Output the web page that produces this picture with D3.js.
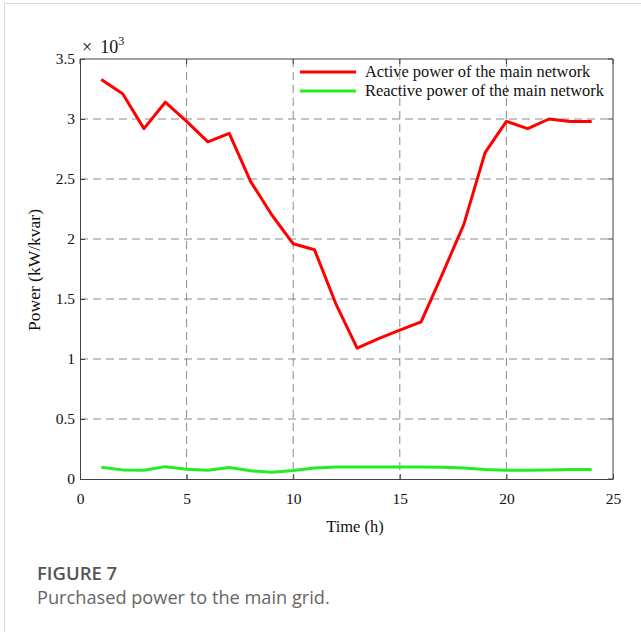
<!DOCTYPE html>
<html>
<head>
<meta charset="utf-8">
<script src="https://cdn.jsdelivr.net/npm/d3@7/dist/d3.min.js"></script>
<style>
  html, body { margin: 0; padding: 0; background: #fff; }
  svg { display: block; }
</style>
</head>
<body>
<svg id="chart" width="641" height="632"></svg>
<script>
// Hourly purchased power from the main grid (kW / kvar)
const hours = d3.range(1, 25);
const activePower = [3330, 3210, 2920, 3140, 2980, 2810, 2880, 2480, 2200, 1960, 1910, 1460,
                     1090, 1170, 1240, 1310, 1710, 2120, 2720, 2980, 2920, 3000, 2980, 2980];
const reactivePower = [98, 76, 73, 103, 82, 73, 95, 68, 57, 70, 92, 100,
                       100, 100, 100, 100, 98, 92, 79, 73, 73, 76, 79, 79];
const xTicks = [0, 5, 10, 15, 20, 25];
const yTicks = [0, 500, 1000, 1500, 2000, 2500, 3000, 3500];
const yTickLabels = ["0", "0.5", "1", "1.5", "2", "2.5", "3", "3.5"];
const seriesNames = ["Active power of the main network", "Reactive power of the main network"];
const seriesColors = ["#ff0000", "#22ee22"];

const svg = d3.select("#chart");
const serif = "'Liberation Serif', 'Times New Roman', serif";
const sans = "'Open Sans', 'Noto Sans', sans-serif";

// outer frame
svg.append("path")
  .attr("d", "M4.5,632 V3.5 H641")
  .attr("fill", "none").attr("stroke", "#d9d9d9").attr("stroke-width", 1);

const m = { left: 80, top: 59, right: 613, bottom: 479 };
const x = d3.scaleLinear().domain([0, 25]).range([m.left, m.right]);
const y = d3.scaleLinear().domain([0, 3500]).range([m.bottom, m.top]);

// dashed grid
const grid = svg.append("g").attr("stroke", "#8a8a8a").attr("stroke-width", 1)
  .attr("stroke-dasharray", "8,5").attr("fill", "none");
xTicks.slice(1, -1).forEach(t => {
  grid.append("line").attr("x1", x(t)).attr("x2", x(t)).attr("y1", m.top).attr("y2", m.bottom);
});
yTicks.slice(1, -1).forEach(t => {
  grid.append("line").attr("x1", m.left).attr("x2", m.right).attr("y1", y(t)).attr("y2", y(t));
});

// axes with inward ticks
const axisColor = "#444";
const xAxis = svg.append("g").attr("transform", `translate(0,${m.bottom})`)
  .call(d3.axisBottom(x).tickValues(xTicks).tickSizeInner(-5).tickSizeOuter(0).tickPadding(14));
const yAxis = svg.append("g").attr("transform", `translate(${m.left},0)`)
  .call(d3.axisLeft(y).tickValues(yTicks).tickFormat((d, i) => yTickLabels[i])
    .tickSizeInner(-5).tickSizeOuter(0).tickPadding(5));
[xAxis, yAxis].forEach(a => {
  a.select(".domain").attr("stroke", axisColor);
  a.selectAll(".tick line").attr("stroke", axisColor);
  a.selectAll(".tick text").attr("fill", "#111").style("font-family", serif).style("font-size", "15.5px");
});
// top and right frame with ticks
svg.append("line").attr("x1", m.left).attr("x2", m.right).attr("y1", m.top).attr("y2", m.top)
  .attr("stroke", axisColor);
svg.append("line").attr("x1", m.right).attr("x2", m.right).attr("y1", m.top).attr("y2", m.bottom)
  .attr("stroke", axisColor);
xTicks.forEach(t => svg.append("line").attr("x1", x(t)).attr("x2", x(t))
  .attr("y1", m.top).attr("y2", m.top + 5).attr("stroke", axisColor));
yTicks.forEach(t => svg.append("line").attr("x1", m.right).attr("x2", m.right - 5)
  .attr("y1", y(t)).attr("y2", y(t)).attr("stroke", axisColor));

// exponent label
const expo = svg.append("text").attr("x", 82).attr("y", 53)
  .style("font-family", serif).style("font-size", "18px").attr("fill", "#111");
expo.append("tspan").text("\u00d7");
expo.append("tspan").attr("dx", 8).text("10");
expo.append("tspan").attr("dy", -8).style("font-size", "12px").text("3");

// axis titles
svg.append("text").attr("x", 355).attr("y", 532).attr("text-anchor", "middle")
  .style("font-family", serif).style("font-size", "16.5px").attr("fill", "#111").text("Time (h)");
svg.append("text").attr("transform", "translate(40,270) rotate(-90)").attr("text-anchor", "middle")
  .style("font-family", serif).style("font-size", "17.5px").attr("fill", "#111").text("Power (kW/kvar)");

// series lines
const line = d3.line().x((d, i) => x(hours[i])).y(d => y(d));
[activePower, reactivePower].forEach((vals, k) => {
  svg.append("path").datum(vals).attr("d", line)
    .attr("fill", "none").attr("stroke", seriesColors[k]).attr("stroke-width", 3)
    .attr("stroke-linejoin", "round");
});

// legend
seriesNames.forEach((name, k) => {
  const ly = 72 + k * 19;
  svg.append("line").attr("x1", 300).attr("x2", 356).attr("y1", ly).attr("y2", ly)
    .attr("stroke", seriesColors[k]).attr("stroke-width", 3);
  svg.append("text").attr("x", 365).attr("y", ly + 5)
    .style("font-family", serif).style("font-size", "16.4px").attr("fill", "#111").text(name);
});

// caption
svg.append("text").attr("x", 37).attr("y", 580)
  .style("font-family", sans).style("font-size", "18.5px").style("font-weight", "600")
  .attr("fill", "#555").text("FIGURE 7");
svg.append("text").attr("x", 37).attr("y", 604)
  .style("font-family", sans).style("font-size", "18.2px")
  .attr("fill", "#666").text("Purchased power to the main grid.");
</script>
</body>
</html>
